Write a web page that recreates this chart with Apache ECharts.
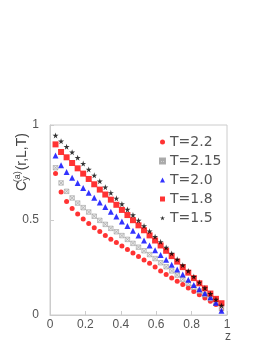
<!DOCTYPE html>
<html>
<head>
<meta charset="utf-8">
<script src="https://cdn.jsdelivr.net/npm/echarts@6/dist/echarts.min.js"></script>
<style>html,body{margin:0;padding:0;background:#fff;}#c{width:273px;height:353px;}</style>
</head>
<body>
<div id="c"></div>
<script>
var zValues = [0.03125,0.0625,0.09375,0.125,0.15625,0.1875,0.21875,0.25,0.28125,0.3125,0.34375,0.375,0.40625,0.4375,0.46875,0.5,0.53125,0.5625,0.59375,0.625,0.65625,0.6875,0.71875,0.75,0.78125,0.8125,0.84375,0.875,0.90625,0.9375,0.96875];
var seriesNames = ['T=2.2','T=2.15','T=2.0','T=1.8','T=1.5'];
var cT22 = [0.745,0.647,0.598,0.560,0.532,0.505,0.481,0.459,0.439,0.418,0.399,0.381,0.363,0.345,0.326,0.308,0.290,0.272,0.252,0.232,0.213,0.195,0.177,0.160,0.142,0.124,0.106,0.090,0.073,0.055,0.032];
var cT215 = [0.775,0.695,0.651,0.616,0.589,0.565,0.542,0.520,0.498,0.477,0.456,0.438,0.418,0.398,0.377,0.357,0.338,0.318,0.297,0.275,0.254,0.232,0.210,0.188,0.166,0.146,0.126,0.106,0.086,0.062,0.035];
var cT20 = [0.840,0.788,0.753,0.723,0.695,0.668,0.644,0.617,0.592,0.568,0.544,0.518,0.492,0.468,0.444,0.418,0.392,0.366,0.341,0.316,0.291,0.265,0.240,0.213,0.185,0.158,0.135,0.114,0.093,0.065,0.022];
var cT18 = [0.898,0.858,0.830,0.800,0.772,0.744,0.716,0.688,0.660,0.634,0.607,0.580,0.553,0.526,0.499,0.472,0.446,0.419,0.392,0.366,0.338,0.310,0.281,0.252,0.223,0.194,0.167,0.140,0.113,0.085,0.062];
var cT15 = [0.945,0.915,0.886,0.857,0.828,0.797,0.766,0.735,0.704,0.673,0.643,0.614,0.584,0.555,0.526,0.498,0.469,0.441,0.412,0.385,0.355,0.324,0.293,0.262,0.232,0.202,0.172,0.142,0.112,0.082,0.050];

function pairs(ys){ return ys.map(function(y,i){ return [zValues[i], y]; }); }

var starPath = 'path://M50,0 L61,35 L98,35 L68,57 L79,91 L50,70 L21,91 L32,57 L2,35 L39,35 Z';
var xboxPath = 'path://M0,0 L10,0 L10,10 L0,10 Z M0,0 L10,10 M10,0 L0,10';

var chart = echarts.init(document.getElementById('c'), null, {renderer:'canvas'});
var lbl = {color:'#555', fontSize:12, fontFamily:'Liberation Sans, Arial, sans-serif'};
chart.setOption({
  animation:false,
  backgroundColor:'#fff',
  grid:{left:50, right:46, top:125, bottom:38, show:true, borderColor:'#cccccc', borderWidth:1},
  xAxis:{type:'value', min:0, max:1, interval:0.2,
    axisLine:{show:true, lineStyle:{color:'#cccccc'}},
    axisTick:{show:true, inside:true, length:4, lineStyle:{color:'#cccccc'}},
    splitLine:{show:false},
    axisLabel:Object.assign({margin:4}, lbl)},
  yAxis:{type:'value', min:0, max:1, interval:0.5,
    axisLine:{show:true, lineStyle:{color:'#cccccc'}},
    axisTick:{show:true, inside:true, length:4, lineStyle:{color:'#cccccc'}},
    splitLine:{show:false},
    axisLabel:Object.assign({margin:11}, lbl)},
  legend:{orient:'vertical', left:154, top:129, itemWidth:5, itemHeight:5, itemGap:3,
    textStyle:{color:'#555', fontSize:14, lineHeight:16, fontFamily:'DejaVu Sans, sans-serif'},
    data:seriesNames},
  series:[
    {name:seriesNames[0], type:'scatter', data:pairs(cT22), symbol:'circle', symbolSize:5, itemStyle:{color:'#ff0000'}},
    {name:seriesNames[1], type:'scatter', data:pairs(cT215), symbol:xboxPath, symbolSize:4.5, itemStyle:{color:'#e6e6e6', borderColor:'#999999', borderWidth:0.7}},
    {name:seriesNames[2], type:'scatter', data:pairs(cT20), symbol:'triangle', symbolSize:6, itemStyle:{color:'#0000ff'}},
    {name:seriesNames[3], type:'scatter', data:pairs(cT18), symbol:'rect', symbolSize:6, itemStyle:{color:'#ff0000'}},
    {name:seriesNames[4], type:'scatter', data:pairs(cT15), symbol:starPath, symbolSize:6, itemStyle:{color:'#000000'}}
  ],
  graphic:[
    {type:'text', left:225, top:331, style:{text:'z', fill:'#555', font:'12px Liberation Sans, Arial, sans-serif'}},
    {type:'text', x:22, y:162, rotation:Math.PI/2, style:{
      text:'{c|C}{s|y}{p|(a)}{c|(r,L,T)}', align:'center', verticalAlign:'middle',
      rich:{c:{fontSize:14, fill:'#444', fontFamily:'Liberation Sans, Arial, sans-serif', verticalAlign:'middle'},
            s:{fontSize:9, fill:'#444', fontFamily:'Liberation Sans, Arial, sans-serif', padding:[8,0,0,0]},
            p:{fontSize:9, fill:'#444', fontFamily:'Liberation Sans, Arial, sans-serif', padding:[0,1,8,-6]}}
    }}
  ]
});
</script>
</body>
</html>
